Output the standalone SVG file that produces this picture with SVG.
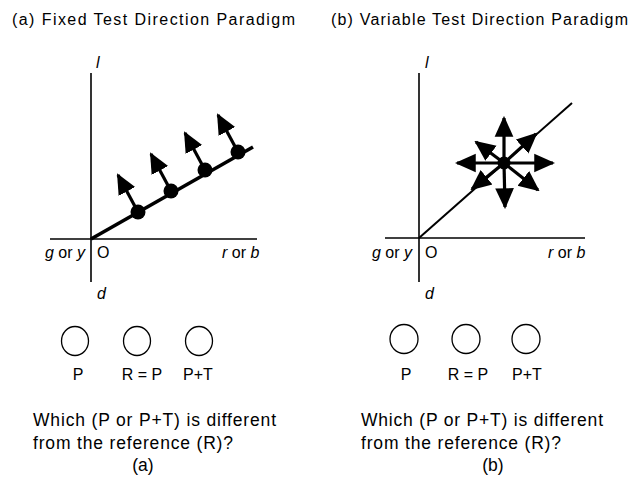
<svg xmlns="http://www.w3.org/2000/svg" width="642" height="484" viewBox="0 0 642 484">
<style>
text{font-family:"Liberation Sans",Arial,sans-serif;fill:#000}
.t{font-size:16px}
.i{font-style:italic}
.q{font-size:17.5px}
.ax{stroke:#000;stroke-width:1.6;fill:none}
.c{fill:none;stroke:#000;stroke-width:1.3}
.sh{stroke:#000;stroke-width:3.2;fill:none}
</style>
<defs>
<marker id="ah" viewBox="0 0 10 10" refX="9" refY="5" markerWidth="6.5" markerHeight="6.5" markerUnits="strokeWidth" orient="auto">
<path d="M0,0.5 L10,5 L0,9.5 z" fill="#000"/>
</marker>
</defs>
<rect width="642" height="484" fill="#fff"/>

<g id="title-a"><text class="t" x="12" y="25" textLength="283" lengthAdjust="spacing">(a) Fixed Test Direction Paradigm</text></g>
<g id="title-b"><text class="t" x="331" y="25" textLength="297" lengthAdjust="spacing">(b) Variable Test Direction Paradigm</text></g>

<g id="panel-a-axes">
<line class="ax" x1="50" y1="239" x2="257" y2="239"/>
<line class="ax" x1="91" y1="73" x2="91" y2="282"/>
<text class="t i" x="96" y="68">l</text>
<text class="t" x="85" y="258" text-anchor="end"><tspan class="i">g</tspan> or <tspan class="i">y</tspan></text>
<text class="t" x="97" y="258">O</text>
<text class="t i" x="97" y="299">d</text>
<text class="t" x="222" y="258"><tspan class="i">r</tspan>  or <tspan class="i">b</tspan></text>
</g>

<g id="panel-a-vectors">
<line x1="91" y1="239" x2="253" y2="147" stroke="#000" stroke-width="3.6"/>
<circle cx="138" cy="212" r="7.5"/>
<circle cx="171" cy="191" r="7.5"/>
<circle cx="205" cy="170" r="7.5"/>
<circle cx="238" cy="152" r="7.5"/>
<line class="sh" x1="138" y1="212" x2="118" y2="175" marker-end="url(#ah)"/>
<line class="sh" x1="171" y1="191" x2="151" y2="154" marker-end="url(#ah)"/>
<line class="sh" x1="205" y1="170" x2="185" y2="133" marker-end="url(#ah)"/>
<line class="sh" x1="238" y1="152" x2="218" y2="115" marker-end="url(#ah)"/>
</g>

<g id="panel-b-axes">
<line class="ax" x1="385" y1="238" x2="585" y2="238"/>
<line class="ax" x1="419" y1="73" x2="419" y2="282"/>
<text class="t i" x="425" y="68">l</text>
<text class="t" x="412" y="258" text-anchor="end"><tspan class="i">g</tspan> or <tspan class="i">y</tspan></text>
<text class="t" x="425" y="258">O</text>
<text class="t i" x="425" y="299">d</text>
<text class="t" x="548" y="258"><tspan class="i">r</tspan>  or <tspan class="i">b</tspan></text>
</g>

<g id="panel-b-vectors">
<line x1="419" y1="238" x2="572" y2="103" stroke="#000" stroke-width="2"/>
<circle cx="504" cy="163" r="6.5"/>
<line class="sh" x1="504" y1="163" x2="504" y2="118" marker-end="url(#ah)"/>
<line class="sh" x1="504" y1="163" x2="505" y2="207" marker-end="url(#ah)"/>
<line class="sh" x1="504" y1="163" x2="457" y2="163" marker-end="url(#ah)"/>
<line class="sh" x1="504" y1="163" x2="553" y2="163" marker-end="url(#ah)"/>
<line class="sh" x1="504" y1="163" x2="536" y2="134" marker-end="url(#ah)"/>
<line class="sh" x1="504" y1="163" x2="476" y2="142" marker-end="url(#ah)"/>
<line class="sh" x1="504" y1="163" x2="472" y2="189" marker-end="url(#ah)"/>
<line class="sh" x1="504" y1="163" x2="538" y2="190" marker-end="url(#ah)"/>
</g>

<g id="stimuli-a">
<ellipse class="c" cx="75" cy="341" rx="13.5" ry="14.5"/>
<ellipse class="c" cx="137" cy="341" rx="13.5" ry="14.5"/>
<ellipse class="c" cx="199" cy="341" rx="13.5" ry="14.5"/>
<text class="t" x="78" y="380" text-anchor="middle">P</text>
<text class="t" x="142" y="380" text-anchor="middle">R = P</text>
<text class="t" x="198" y="380" text-anchor="middle">P+T</text>
</g>
<g id="stimuli-b">
<ellipse class="c" cx="404" cy="339" rx="14" ry="14.5"/>
<ellipse class="c" cx="466" cy="339" rx="14" ry="14.5"/>
<ellipse class="c" cx="526" cy="339" rx="14" ry="14.5"/>
<text class="t" x="406" y="380" text-anchor="middle">P</text>
<text class="t" x="468" y="380" text-anchor="middle">R = P</text>
<text class="t" x="527" y="380" text-anchor="middle">P+T</text>
</g>

<g id="question-a">
<text class="q" x="33" y="426" textLength="243" lengthAdjust="spacing">Which (P or P+T) is different</text>
<text class="q" x="33" y="449" textLength="200" lengthAdjust="spacing">from the reference (R)?</text>
<text class="q" x="143" y="471" text-anchor="middle">(a)</text>
</g>
<g id="question-b">
<text class="q" x="361" y="426" textLength="242" lengthAdjust="spacing">Which (P or P+T) is different</text>
<text class="q" x="361" y="449" textLength="200" lengthAdjust="spacing">from the reference (R)?</text>
<text class="q" x="493" y="471" text-anchor="middle">(b)</text>
</g>
</svg>
